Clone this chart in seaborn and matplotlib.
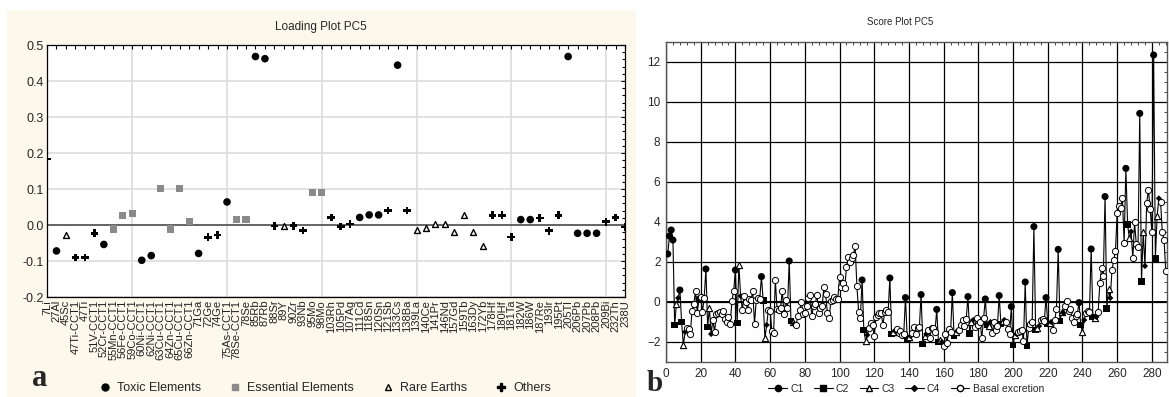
import numpy as np
import pandas as pd
import matplotlib.pyplot as plt
import seaborn as sns
from matplotlib.lines import Line2D
from matplotlib.patches import Rectangle
from matplotlib.ticker import MultipleLocator

sns.set_theme(style="white")
plt.rcParams['font.family'] = ['Liberation Sans', 'DejaVu Sans']

# ---------------- Datos: Loading Plot PC5 ----------------
elementos = ['7Li', '27Al', '45Sc', '47Ti-CCT1', '47Ti', '51V-CCT1', '52Cr-CCT1',
             '55Mn-CCT1', '56Fe-CCT1', '59Co-CCT1', '60Ni-CCT1', '62Ni-CCT1',
             '63Cu-CCT1', '64Zn-CCT1', '65Cu-CCT1', '66Zn-CCT1', '71Ga', '72Ge',
             '74Ge', '75As-CCT1', '78Se-CCT1', '78Se', '85Rb', '87Rb', '88Sr', '89Y',
             '90Zr', '93Nb', '95Mo', '98Mo', '103Rh', '105Pd', '107Ag', '111Cd',
             '118Sn', '120Sn', '121Sb', '133Cs', '138Ba', '139La', '140Ce', '141Pr',
             '146Nd', '157Gd', '159Tb', '163Dy', '172Yb', '178Hf', '180Hf', '181Ta',
             '182W', '186W', '187Re', '193Ir', '195Pt', '205Tl', '206Pb', '207Pb',
             '208Pb', '209Bi', '232Th', '238U']
cargas = [0.183, -0.072, -0.028, -0.090, -0.090, -0.023, -0.054, -0.011, 0.027, 0.033,
          -0.098, -0.085, 0.101, -0.011, 0.101, 0.009, -0.079, -0.034, -0.028, 0.064,
          0.015, 0.015, 0.468, 0.462, -0.003, -0.002, -0.002, -0.015, 0.090, 0.090,
          0.021, -0.004, 0.003, 0.021, 0.028, 0.028, 0.040, 0.444, 0.040, -0.015,
          -0.009, 0.004, 0.004, -0.020, 0.027, -0.020, -0.059, 0.027, 0.027, -0.033,
          0.015, 0.015, 0.020, -0.016, 0.027, 0.468, -0.023, -0.023, -0.023, 0.009,
          0.021, -0.005]
# T = toxic, E = essential, R = rare earths, O = others
tipo_elemento = list("OTROOOTEEETTEEEETOOTEETTOROOEEOOOTTTOTORRRRRRRROOOTTOOOTTTTOOO")
nombres_tipo = {'T': 'Toxic Elements', 'E': 'Essential Elements',
                'R': 'Rare Earths', 'O': 'Others'}

# ---------------- Datos: Score Plot PC5 ----------------
puntuacion = [
    2.4, 3.3, 3.6, 3.1, -1.15, -0.1, 0.2, 0.6, -1.0, -2.15,
    -1.5, -1.3, -1.35, -1.6, -0.45, -0.1, 0.55, -0.55, 0.15, 0.25,
    -0.5, 0.2, 1.65, -1.25, -0.3, -1.6, -0.9, -1.5, -0.6, -0.55,
    -0.5, -0.6, -0.45, -0.85, -1.0, -0.75, -1.1, 0.05, 0.55, 1.6,
    -1.05, 1.85, 0.3, -0.4, 0.3, 0.0, -0.4, 0.15, 0.1, 0.55,
    -1.1, 0.1, 0.2, 0.15, 1.27, 0.07, -1.82, -1.15, -0.4, -0.45,
    -1.45, -1.55, 1.1, -0.35, -0.4, -0.3, 0.57, -0.6, 0.1, -0.3,
    2.05, -0.95, -1.0, -1.1, -1.15, -0.7, -0.4, 0.0, -0.6, -0.55,
    -0.2, 0.2, 0.35, -0.7, -0.2, -0.1, 0.35, -0.55, -0.3, -0.2,
    0.75, 0.4, -0.55, -0.8, 0.05, 0.1, 0.25, 0.15, 0.15, 1.25,
    0.75, 0.95, 0.7, 1.75, 2.25, 2.0, 2.2, 2.35, 2.8, 0.8,
    -0.5, -0.8, 1.1, -1.4, -1.95, -1.65, -1.3, -1.05, -1.15, -1.7,
    -0.75, -0.65, -0.55, -0.55, -1.15, -0.5, -0.4, -0.5, 1.2, -1.6,
    -1.5, -1.45, -1.35, -1.55, -1.45, -1.65, -1.6, 0.22, -1.82, -1.75,
    -1.7, -1.55, -1.25, -1.6, -1.3, -1.25, 0.37, -2.1, -1.7, -1.6,
    -1.4, -1.8, -1.3, -1.3, -1.5, -0.37, -2.0, -1.9, -2.0, -2.2,
    -1.6, -2.05, -1.35, -1.5, 0.47, -1.7, -1.5, -1.45, -1.4, -1.15,
    -0.9, -1.2, -0.85, 0.27, -1.57, -1.0, -0.9, -1.25, -0.8, -1.15,
    -1.0, -1.8, -0.8, 0.15, -1.15, -1.2, -1.0, -1.55, -1.0, -1.4,
    -1.2, 0.32, -1.1, -0.95, -0.9, -1.0, -1.35, -1.6, -0.23, -2.15,
    -1.65, -1.6, -1.5, -1.45, -1.4, -1.95, 1.0, -2.2, -1.3, -1.1,
    -1.0, 3.77, -1.4, -1.3, -1.2, -0.9, -0.85, -0.95, 0.22, -1.1,
    -1.05, -1.0, -1.4, -0.9, -0.35, 2.63, -0.95, -0.5, -0.55, -0.2,
    0.05, -0.45, -0.35, -0.8, -1.0, -0.7, -0.6, -0.03, -1.15, -1.5,
    -0.9, -0.55, -0.45, -0.5, 2.65, -0.75, -0.8, -0.75, -0.5, 0.93,
    1.7, 1.3, 5.27, -0.32, 0.65, 0.2, 1.6, 2.1, 2.57, 4.47,
    4.8, 4.7, 5.2, 2.97, 6.68, 3.88, 3.18, 3.52, 2.18, 3.98,
    2.9, 2.73, 9.43, 1.02, 3.48, 1.8, 4.97, 5.6, 4.65, 3.48,
    12.35, 2.17, 4.3, 5.18, 5.0, 3.48, 3.1, 1.55,
]
# 1..4 = C1..C4, B = basal excretion
grupo_caso = list(
    "1111234123" "4BBBBBBB1B" "BB1234BBBB" "BBBBBBBBB1" "234BBBBBBB"
    "BBBB1234BB" "BBBBBBBBBB" "1234BBBBBB" "BBBBBBBBBB" "BBBBBBBBBB"
    "BBBBBBBBBB" "BB1234BBBB" "BBBBBBBB12" "34BBBBB123" "4BBBBB1234"
    "BBBBB1234B" "BBBB1234BB" "BBB1234BBB" "BBB1234BBB" "B1234BBB12"
    "34BBBB12BB" "B1234BBB12" "34BBB1234B" "BBBBBBB123" "4BBB1234BB"
    "BB1234BBBB" "BBBB1234BB" "BB1234BBBB" "1234BBBB"
)
nombres_grupo = {'1': 'C1', '2': 'C2', '3': 'C3', '4': 'C4', 'B': 'Basal excretion'}

df_carga = pd.DataFrame({'pos': np.arange(1, len(elementos) + 1), 'carga': cargas,
                         'tipo': [nombres_tipo[t] for t in tipo_elemento]})
df_score = pd.DataFrame({'caso': np.arange(1, len(puntuacion) + 1), 'score': puntuacion,
                         'grupo': [nombres_grupo[g] for g in grupo_caso]})

# ---------------- Figura ----------------
W, H = 1169, 397
fig = plt.figure(figsize=(W / 100, H / 100), dpi=100)


def caja(l, t, r, b):
    return [l / W, 1 - b / H, (r - l) / W, (b - t) / H]


fig.patches.append(Rectangle((7 / W, 0), (636 - 7) / W, 1 - 10 / H, transform=fig.transFigure,
                             facecolor='#fdf8ec', edgecolor='none', zorder=-5))

# ---- Panel a ----
ax1 = fig.add_axes(caja(47, 45, 625, 297))
ax1.set_facecolor('white')
for v in [10, 20, 30, 40, 50, 60]:
    ax1.axvline(v, color='#dcdcdc', lw=1.2, zorder=0)
ax1.yaxis.grid(True, color='#dcdcdc', lw=1.2, zorder=0)
ax1.axhline(0, color='#5a5a5a', lw=1.3, zorder=1)

estilos_carga = {
    'Toxic Elements': dict(marker='o', color='black', s=30, edgecolor='none'),
    'Essential Elements': dict(marker='s', color='#8a8a8a', s=26, edgecolor='none'),
    'Rare Earths': dict(marker='^', color='black', facecolor='white', edgecolor='black',
                        s=18, linewidth=1.0),
    'Others': dict(marker='P', color='black', s=30, edgecolor='none'),
}
for nombre, kw in estilos_carga.items():
    sub = df_carga[df_carga['tipo'] == nombre]
    sns.scatterplot(data=sub, x='pos', y='carga', ax=ax1, legend=False, zorder=3, **kw)

ax1.set_xlim(1, 62)
ax1.set_ylim(-0.2, 0.5)
ax1.set_xticks(df_carga['pos'])
ax1.set_xticklabels(elementos, rotation=90, fontsize=8, color='#222222')
ax1.set_yticks([-0.2, -0.1, 0.0, 0.1, 0.2, 0.3, 0.4, 0.5])
ax1.set_yticklabels(['-0.2', '-0.1', '0.0', '0.1', '0.2', '0.3', '0.4', '0.5'], fontsize=9)
ax1.yaxis.set_minor_locator(MultipleLocator(0.02))
ax1.tick_params(axis='both', which='both', direction='in', top=True, right=True,
                length=3, width=0.8, color='black', pad=2)
ax1.tick_params(axis='y', which='minor', length=2)
ax1.set_xlabel('')
ax1.set_ylabel('')
for s in ax1.spines.values():
    s.set_color('black')
    s.set_linewidth(0.9)
fig.text(321 / W, 1 - 27 / H, 'Loading Plot PC5', ha='center', va='center', fontsize=8.5)

manejadores_a = [
    Line2D([], [], ls='none', marker='o', color='black', markersize=5),
    Line2D([], [], ls='none', marker='s', color='#8a8a8a', markersize=5),
    Line2D([], [], ls='none', marker='^', markerfacecolor='none', markeredgecolor='black', markersize=4.5),
    Line2D([], [], ls='none', marker='P', color='black', markersize=5.5),
]
fig.legend(manejadores_a, list(estilos_carga.keys()), loc='center', ncol=4, frameon=False,
           bbox_to_anchor=(325 / W, 1 - 388 / H), fontsize=9, handletextpad=0.5,
           columnspacing=2.2, handlelength=1.0)

# ---- Panel b ----
ax2 = fig.add_axes(caja(666, 42, 1167, 362))
ax2.set_facecolor('white')
ax2.grid(True, color='black', lw=0.9, zorder=0)
ax2.axhline(0, color='black', lw=1.4, zorder=1)
sns.lineplot(data=df_score, x='caso', y='score', ax=ax2, color='black', lw=0.8,
             sort=False, estimator=None, zorder=2)

estilos_score = {
    'C1': dict(marker='o', color='black', s=26, edgecolor='none'),
    'C2': dict(marker='s', color='black', s=24, edgecolor='none'),
    'C3': dict(marker='^', color='black', facecolor='white', edgecolor='black', s=20, linewidth=0.8),
    'C4': dict(marker='D', color='black', s=10, edgecolor='none'),
    'Basal excretion': dict(marker='o', color='black', facecolor='white', edgecolor='black',
                            s=20, linewidth=0.7),
}
for nombre, kw in estilos_score.items():
    sub = df_score[df_score['grupo'] == nombre]
    sns.scatterplot(data=sub, x='caso', y='score', ax=ax2, legend=False, zorder=3, **kw)

ax2.set_xlim(0, 288.7)
ax2.set_ylim(-3, 13)
ax2.set_xticks(np.arange(0, 281, 20))
ax2.set_yticks(np.arange(-2, 13, 2))
ax2.xaxis.set_minor_locator(MultipleLocator(4))
ax2.yaxis.set_minor_locator(MultipleLocator(0.5))
ax2.tick_params(axis='both', which='major', direction='in', labelsize=8.5, length=0, pad=4)
ax2.tick_params(axis='both', which='minor', direction='in', top=True, right=True,
                bottom=False, left=False, length=2, width=0.7, color='#444444')
ax2.set_xlabel('')
ax2.set_ylabel('')
for s in ax2.spines.values():
    s.set_color('#555555')
    s.set_linewidth(1.0)
fig.text(900 / W, 1 - 22 / H, 'Score Plot PC5', ha='center', va='center', fontsize=7)

manejadores_b = [
    Line2D([], [], color='black', lw=0.8, marker='o', markersize=4.5),
    Line2D([], [], color='black', lw=0.8, marker='s', markersize=4.5),
    Line2D([], [], color='black', lw=0.8, marker='^', markerfacecolor='white', markersize=4.5),
    Line2D([], [], color='black', lw=0.8, marker='D', markersize=3),
    Line2D([], [], color='black', lw=0.8, marker='o', markerfacecolor='white', markersize=4.5),
]
fig.legend(manejadores_b, list(estilos_score.keys()), loc='center', ncol=5, frameon=False,
           bbox_to_anchor=(906 / W, 1 - 389 / H), fontsize=7.5, handletextpad=0.3,
           columnspacing=1.0, handlelength=1.8)

# letras de panel
fig.text(40 / W, 1 - 386 / H, 'a', ha='center', va='baseline', fontsize=22,
         fontweight='bold', family=['Liberation Serif', 'DejaVu Serif'])
fig.text(655 / W, 1 - 391 / H, 'b', ha='center', va='baseline', fontsize=21,
         fontweight='bold', family=['Liberation Serif', 'DejaVu Serif'])

fig.savefig('out.png', dpi=100)
